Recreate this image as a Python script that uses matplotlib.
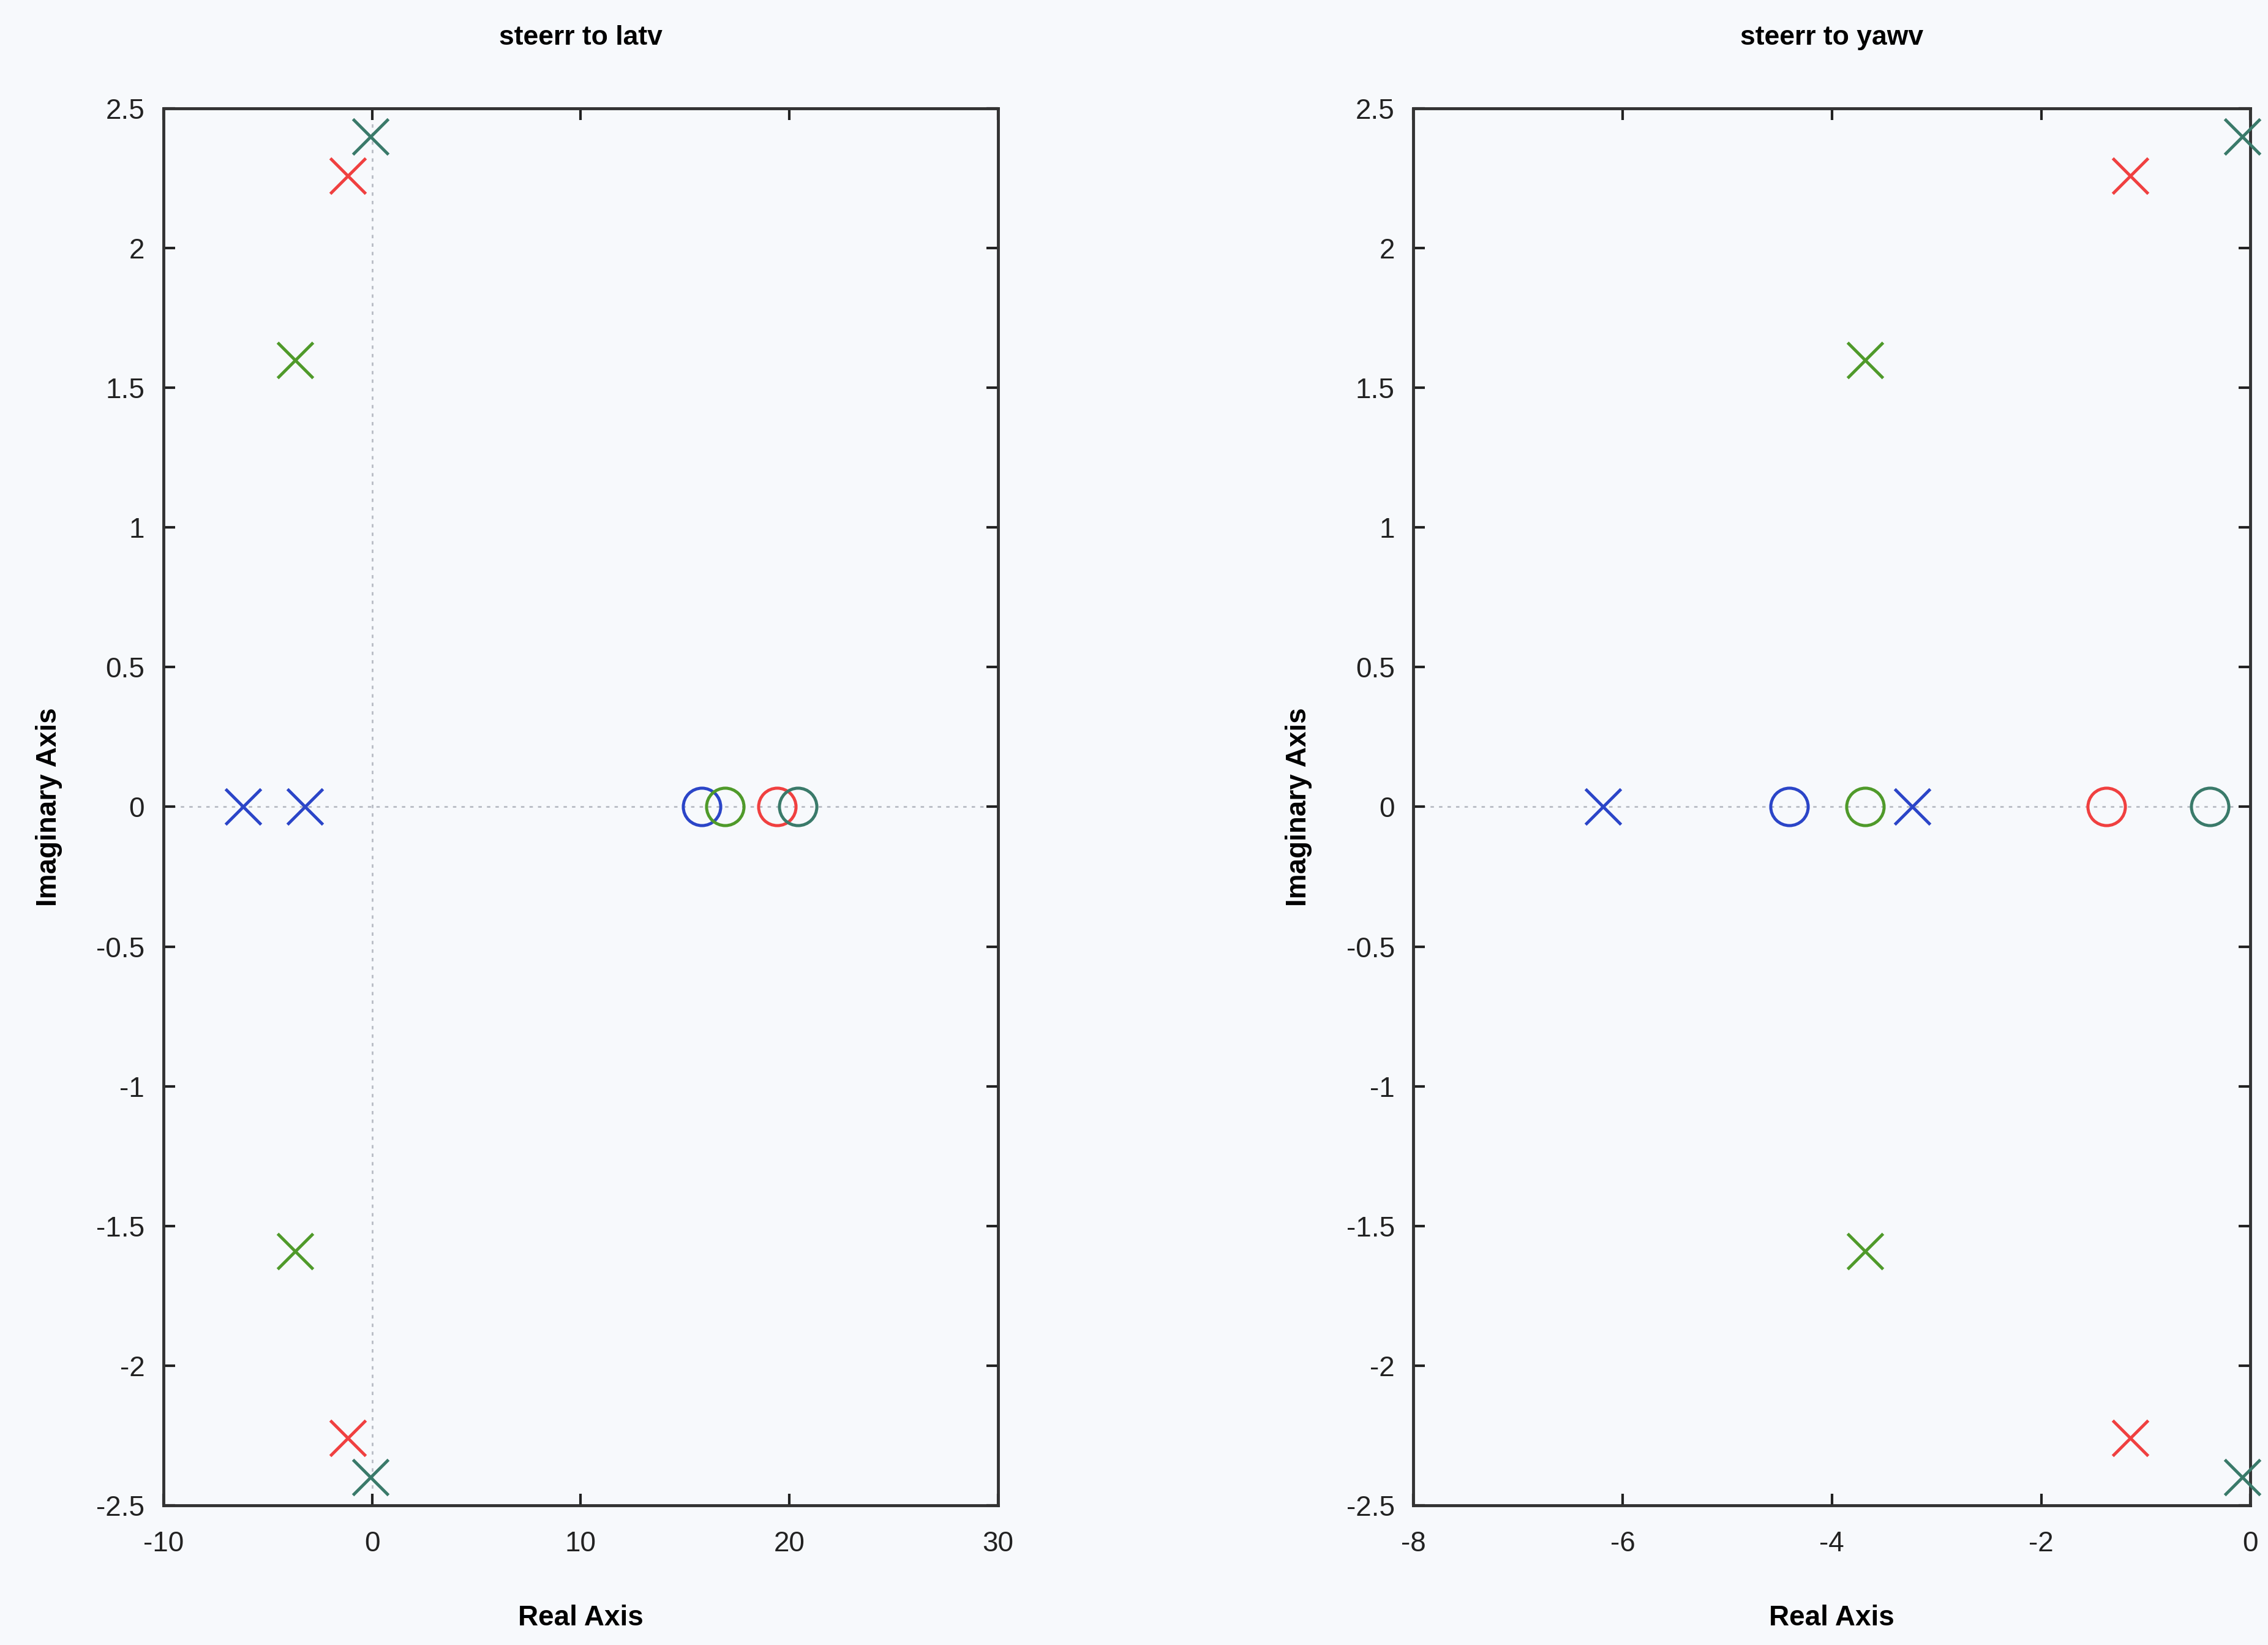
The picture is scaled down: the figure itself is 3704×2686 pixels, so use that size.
import numpy as np
import matplotlib
matplotlib.use("Agg")
import matplotlib.pyplot as plt

plt.rcParams['font.family'] = ['Liberation Sans', 'DejaVu Sans']
plt.rcParams['axes.unicode_minus'] = False

# poles are shared by both transfer functions (four load cases)
series_colors = ['#2b45c8', '#4f9a2a', '#f04040', '#3a7a6a']
pole_re = [[-6.19, -3.23], [-3.68, -3.68], [-1.15, -1.15], [-0.08, -0.08]]
pole_im = [[0.0, 0.0], [1.60, -1.59], [2.26, -2.26], [2.40, -2.40]]

# zeros of each output
latv_zero_re = [15.8, 16.9, 19.4, 20.4]
yawv_zero_re = [-4.41, -3.68, -1.38, -0.39]

titles = ['steerr to latv', 'steerr to yawv']
xlims = [(-10, 30), (-8, 0)]
xticks = [[-10, 0, 10, 20, 30], [-8, -6, -4, -2, 0]]
yticks = [-2.5, -2, -1.5, -1, -0.5, 0, 0.5, 1, 1.5, 2, 2.5]
ytick_labels = ['-2.5', '-2', '-1.5', '-1', '-0.5', '0', '0.5', '1', '1.5', '2', '2.5']

bg = '#f7f9fc'
fig = plt.figure(figsize=(37.05, 26.86), dpi=100, facecolor=bg)
positions = [[0.072, 0.085, 0.368, 0.849], [0.623, 0.085, 0.369, 0.849]]

for k, zeros in enumerate([latv_zero_re, yawv_zero_re]):
    ax = fig.add_axes(positions[k])
    ax.set_facecolor(bg)
    # dotted zero lines
    ax.axhline(0, color='#b8bcc4', lw=2, ls=(0, (2, 3)), zorder=1)
    ax.axvline(0, color='#b8bcc4', lw=2, ls=(0, (2, 3)), zorder=1)
    for i, c in enumerate(series_colors):
        ax.plot(pole_re[i], pole_im[i], ls='none', marker='x', ms=42, mew=3.6,
                color=c, zorder=3, clip_on=False)
        ax.plot([zeros[i]], [0.0], ls='none', marker='o', ms=44, mew=3.6,
                mfc='none', mec=c, zorder=3)
    ax.set_xlim(*xlims[k])
    ax.set_ylim(-2.5, 2.5)
    ax.set_xticks(xticks[k])
    ax.set_yticks(yticks)
    ax.set_yticklabels(ytick_labels)
    ax.tick_params(direction='in', length=14, width=3, top=True, right=True,
                   labelsize=33, colors='#222222')
    ax.tick_params(axis='x', pad=30)
    ax.tick_params(axis='y', pad=22)
    for s in ax.spines.values():
        s.set_linewidth(3.5)
        s.set_color('#333333')
    ax.set_title(titles[k], fontsize=32, fontweight='bold', pad=75)
    ax.set_xlabel('Real Axis', fontsize=33, fontweight='bold', labelpad=55)
    ax.set_ylabel('Imaginary Axis', fontsize=33, fontweight='bold', labelpad=40)

fig.savefig('out.png', dpi=100, facecolor=bg)
